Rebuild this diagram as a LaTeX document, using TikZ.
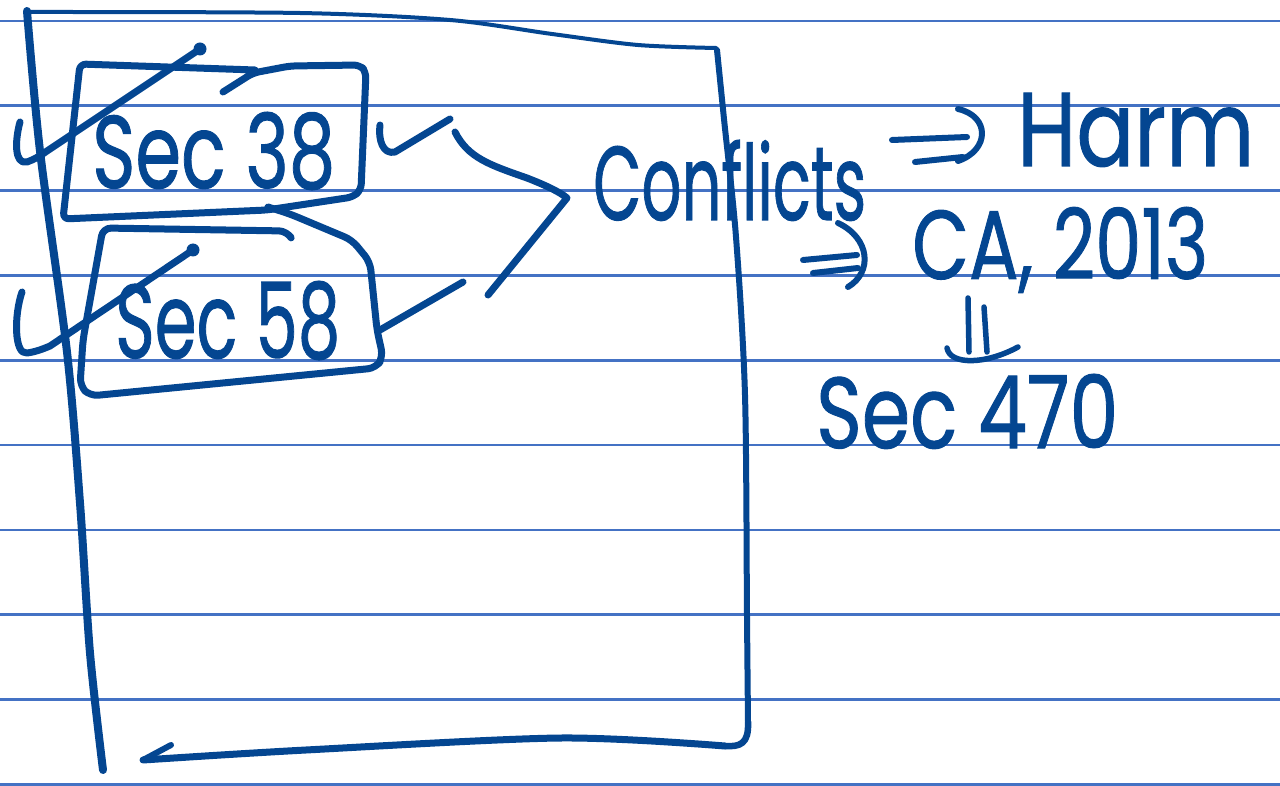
\documentclass[tikz,border=0pt]{standalone}
\usepackage{fontspec}
\usepackage{graphicx}
\newfontfamily\handfont{Poppins}[FakeBold=1]
\definecolor{ink}{RGB}{4,70,145}
\definecolor{rulecol}{RGB}{68,114,196}
\newcommand{\hw}[3]{\resizebox{#1pt}{#2pt}{\handfont #3}}
\begin{document}
\begin{tikzpicture}[x=1pt,y=-1pt,
  inkline/.style={draw=ink,line width=7pt,line cap=round,line join=round},
  handtext/.style={anchor=base west,inner sep=0pt,text=ink},
  ruleline/.style={draw=rulecol,line width=2.6pt}]
\useasboundingbox (0,0) rectangle (1280,786);
\fill[white] (0,0) rectangle (1280,786);
% ruled lines
\foreach \k in {0,...,9} {\draw[ruleline] (0,{21+84.8*\k}) -- (1280,{21+84.8*\k});}
% frame
\draw[inkline,line width=8pt] plot[smooth] coordinates {(27,11) (40,151) (67,352) (80,503) (90,653) (103,770)};
\draw[inkline,line width=4pt] plot[smooth] coordinates {(30,12) (300,13) (450,20) (552,34) (638,45) (716,48)};
\draw[inkline,line width=6pt] plot[smooth] coordinates {(717,50) (724,119) (736,237) (745,395) (747,617) (748,722)};
\draw[inkline,line width=6.5pt] (748,722) .. controls (749,744) and (740,747) .. (725,746);
\draw[inkline,line width=7pt] plot[smooth] coordinates {(725,746) (561,738) (306,750) (143,760)};
\draw[inkline,line width=6pt] (143,760) -- (171,745);
% box 1
\draw[inkline,rounded corners=6pt] (255,70) -- (80,64) -- (63,219) -- (267,210) -- (353,197) -- (361,190) -- (366,72) -- (360,65) -- (290,66) -- (253,73) -- (223,92);
% box 2
\draw[inkline,rounded corners=8pt] (268,207) -- (290,214) -- (352,240) -- (370,262) -- (377,330) -- (383,357) -- (376,368) -- (90,396) -- (80,386) -- (83,340) -- (103,228) -- (287,231) -- (290,236);
% ticks
\draw[inkline] (20,122) .. controls (15,140) and (14,165) .. (27,162) .. controls (33,160) and (40,156) .. (47,151) -- (200,49);
\fill[ink] (200,49) circle (6.5);
\draw[inkline] (22,292) .. controls (14,315) and (14,355) .. (27,353) .. controls (35,352) and (43,349) .. (50,346) -- (193,250);
\fill[ink] (193,250) circle (6.5);
\draw[inkline] (380,125) .. controls (378,140) and (383,155) .. (395,152) -- (450,119);
% bracket
\draw[inkline] (455,132) .. controls (468,158) and (490,165) .. (527,178) .. controls (545,185) and (560,192) .. (567,198) -- (488,295);
\draw[inkline] (380,330) -- (463,282);
% texts
\node[handtext] (s38) at (92,188) {\hw{243}{76}{Sec 38}};
\node[handtext] (s58) at (115,358) {\hw{225}{77}{Sec 58}};
\node[handtext] (conf) at (593,220) {\hw{273}{80}{Conflicts}};
\node[handtext] (harm) at (1017,166) {\hw{237}{73}{Harm}};
\node[handtext] (ca) at (912,279) {\hw{296}{72}{CA, 2013}};
\node[handtext] (s470) at (816,448) {\hw{302}{74}{Sec 470}};
% double arrows
\draw[inkline,line width=6pt] (892,140) -- (967,137);
\draw[inkline,line width=6pt] (915,162) -- (963,157);
\draw[inkline,line width=6pt] (958,109) .. controls (990,116) and (990,150) .. (958,161);
\draw[inkline,line width=6pt] (803,260) -- (857,255);
\draw[inkline,line width=6pt] (813,273) -- (858,268);
\draw[inkline,line width=6pt] (838,223) .. controls (870,238) and (873,272) .. (848,287);
\draw[inkline,line width=5.5pt] (968,298) -- (969,352);
\draw[inkline,line width=5.5pt] (984,307) -- (987,352);
\draw[inkline,line width=5.5pt] (947,348) .. controls (950,365) and (985,365) .. (1018,347);
\end{tikzpicture}
\end{document}
